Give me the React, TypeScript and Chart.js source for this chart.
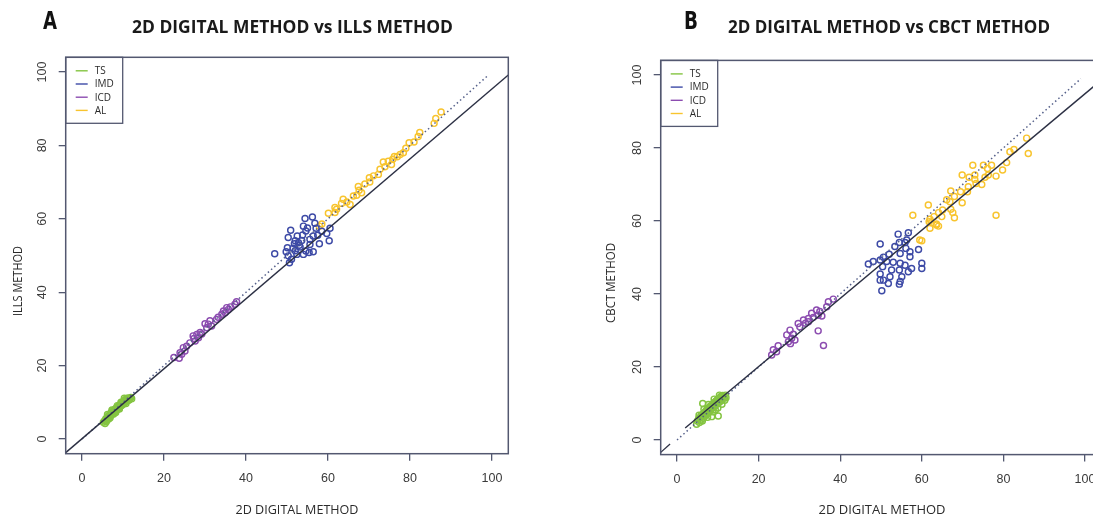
import React, { useEffect, useRef } from "react";
import { Chart, registerables } from "chart.js";

Chart.register(...registerables);

type Pt = [number, number];

const tickValues = [0, 20, 40, 60, 80, 100];
const groupLabels = ["TS", "IMD", "ICD", "AL"];
const groupColors = ["#84c441", "#3d4aa6", "#8c4cb0", "#f8c42e"];

// ---------- Panel A : 2D digital vs ILLS ----------
const tsA: Pt[] = [
  [5.2, 4.6], [5.5, 5.0], [5.6, 4.2], [5.8, 5.5], [6.0, 5.1], [6.1, 5.8], [6.3, 6.2], [6.4, 5.4], [6.6, 6.0], [6.7, 6.6],
  [6.9, 6.3], [7.0, 7.0], [7.1, 6.5], [7.2, 7.4], [7.4, 6.9], [7.5, 7.6], [7.6, 7.1], [7.8, 7.8], [7.9, 7.3], [8.0, 8.1],
  [8.1, 7.6], [8.3, 8.3], [8.4, 7.9], [8.5, 8.6], [8.7, 8.2], [8.8, 8.8], [8.9, 8.4], [9.0, 9.1], [9.2, 8.7], [9.3, 9.4],
  [9.4, 9.0], [9.6, 9.6], [9.7, 9.2], [9.8, 9.9], [10.0, 9.5], [10.1, 10.2], [10.2, 9.8], [10.4, 10.5], [10.5, 10.0], [10.6, 10.8],
  [10.8, 10.3], [10.9, 11.0], [11.0, 10.6], [11.2, 11.2], [11.3, 10.5], [11.5, 11.0], [11.6, 10.8], [6.2, 6.7], [7.3, 7.9], [8.6, 9.1],
  [9.5, 10.0], [10.3, 11.1], [5.9, 4.7], [6.8, 5.7], [7.7, 6.8], [8.2, 7.2], [9.1, 8.2], [10.7, 9.7], [11.9, 11.3], [12.1, 11.0],
];
const imdA: Pt[] = [
  [47.0, 50.5], [54.4, 60.1], [56.2, 60.5], [54.0, 58.0], [56.8, 58.8], [50.9, 56.9], [54.6, 56.7], [57.1, 57.4], [60.5, 57.4], [59.7, 56.0],
  [60.3, 54.0], [50.3, 54.9], [52.0, 54.0], [52.8, 53.5], [53.6, 54.1], [55.6, 54.4], [56.4, 55.3], [57.9, 53.2], [55.6, 53.0], [50.1, 52.1],
  [51.5, 52.0], [53.2, 52.3], [54.6, 51.2], [56.4, 51.0], [50.3, 49.9], [51.1, 49.0], [52.4, 50.3], [54.0, 50.3], [55.4, 50.8], [50.6, 48.0],
  [55.0, 57.5], [52.5, 55.3], [53.0, 52.8], [51.8, 53.2], [57.5, 55.5], [58.5, 56.6], [53.8, 55.6], [49.8, 51.0], [52.0, 51.3],
];
const icdA: Pt[] = [
  [37.7, 37.4], [37.3, 36.7], [35.3, 35.8], [34.9, 34.4], [34.1, 34.0], [33.2, 33.2], [32.8, 32.6], [31.2, 32.2], [30.8, 31.3], [31.6, 30.8],
  [30.4, 30.3], [28.8, 29.0], [28.0, 28.5], [27.1, 28.1], [28.4, 27.6], [27.6, 26.7], [26.3, 26.2], [25.5, 25.3], [24.7, 24.9], [23.9, 23.5],
  [23.7, 22.0], [25.1, 24.0], [30.0, 31.4], [34.5, 34.9], [35.7, 35.3], [27.3, 27.4], [29.2, 28.6], [36.2, 36.0], [24.3, 23.1], [22.4, 22.2],
];
const alA: Pt[] = [
  [87.6, 89.1], [86.3, 87.3], [85.9, 86.0], [82.4, 83.5], [82.0, 82.4], [81.0, 80.9], [79.8, 80.7], [78.4, 78.0], [77.6, 77.5], [76.9, 76.9],
  [75.8, 76.2], [74.7, 75.7], [73.5, 75.5], [75.5, 74.8], [73.9, 74.2], [72.7, 73.5], [72.3, 72.1], [71.1, 71.7], [70.1, 71.2], [70.2, 70.0],
  [67.4, 68.8], [67.6, 67.8], [68.2, 67.1], [67.0, 66.4], [66.2, 66.2], [63.7, 65.3], [64.6, 64.6], [63.3, 64.2], [65.4, 63.9], [62.1, 62.6],
  [61.7, 61.7], [60.1, 61.5], [61.7, 63.1], [57.9, 58.0], [58.5, 58.6], [69.0, 69.5], [76.2, 77.0], [79.0, 79.2],
];
const fitA: Pt[] = [[-4, -3.7], [104, 99.2]];

// ---------- Panel B : 2D digital vs CBCT ----------
const tsB: Pt[] = [
  [4.8, 4.3], [5.0, 5.2], [5.3, 5.8], [5.5, 4.8], [5.7, 6.3], [5.9, 5.5], [6.0, 6.8], [6.2, 5.2], [6.3, 10.0], [6.4, 7.1],
  [6.5, 6.0], [6.7, 7.5], [6.8, 6.5], [7.0, 7.9], [7.1, 6.9], [7.3, 8.3], [7.4, 7.2], [7.5, 6.2], [7.6, 8.6], [7.8, 7.6],
  [7.9, 9.0], [8.0, 8.0], [8.2, 9.3], [8.3, 8.4], [8.5, 6.4], [8.6, 9.6], [8.7, 8.7], [8.9, 10.0], [9.0, 9.0], [9.2, 10.3],
  [9.3, 9.3], [9.4, 8.2], [9.5, 10.6], [9.6, 9.7], [9.8, 11.0], [9.9, 10.0], [10.0, 8.8], [10.1, 6.6], [10.2, 11.3], [10.3, 10.3],
  [10.5, 11.6], [10.6, 10.6], [10.8, 12.0], [10.9, 11.0], [11.0, 9.8], [11.2, 12.2], [11.3, 11.3], [11.5, 11.8], [11.7, 10.9], [11.9, 12.3],
  [12.0, 11.6], [6.6, 8.4], [7.7, 9.7], [9.1, 11.2], [10.4, 12.3], [5.4, 6.8], [8.8, 7.7],
];
const imdB: Pt[] = [
  [49.8, 53.7], [54.2, 56.4], [56.7, 56.8], [54.5, 54.1], [55.9, 54.1], [53.4, 53.0], [56.1, 52.5], [59.2, 52.2], [57.1, 51.6], [54.7, 51.1],
  [52.0, 50.9], [57.1, 50.2], [50.6, 50.1], [46.9, 48.2], [49.8, 49.3], [51.4, 48.9], [53.0, 48.7], [54.7, 48.4], [55.9, 47.9], [60.0, 48.4],
  [60.0, 47.0], [57.5, 47.0], [50.4, 47.5], [52.6, 46.6], [54.5, 46.6], [56.7, 46.1], [49.8, 45.5], [52.2, 44.7], [55.1, 44.7], [49.8, 43.8],
  [50.6, 43.8], [54.7, 43.4], [51.8, 42.9], [54.5, 42.7], [50.2, 40.9], [48.1, 48.9], [56.3, 54.8],
];
const icdB: Pt[] = [
  [37.1, 37.9], [36.7, 36.5], [35.0, 35.2], [34.2, 35.6], [34.6, 34.2], [33.4, 33.6], [32.2, 33.3], [31.0, 32.9], [32.2, 32.4], [30.1, 31.0],
  [27.7, 30.1], [28.5, 29.0], [26.9, 28.8], [28.1, 27.9], [27.3, 26.9], [28.9, 27.4], [24.8, 25.8], [23.6, 24.7], [24.4, 24.2], [23.2, 23.3],
  [34.6, 29.9], [35.9, 25.9], [33.0, 34.7], [38.3, 38.6], [29.7, 31.9], [27.8, 26.4], [31.5, 32.0], [35.5, 34.0],
];
const alB: Pt[] = [
  [85.7, 82.7], [86.1, 78.5], [82.6, 79.6], [81.6, 79.0], [80.8, 76.0], [79.8, 74.0], [78.2, 72.3], [77.1, 75.3], [75.1, 75.3], [76.1, 74.4],
  [72.5, 75.3], [76.3, 72.6], [75.5, 72.0], [73.0, 72.6], [71.6, 72.0], [69.9, 72.6], [73.0, 71.4], [73.3, 70.3], [74.7, 70.0], [71.4, 69.4],
  [71.2, 68.0], [69.5, 68.0], [67.1, 68.2], [68.0, 66.7], [66.9, 65.3], [69.9, 65.0], [61.6, 64.4], [65.1, 63.0], [64.1, 62.3], [67.1, 63.2],
  [67.6, 62.3], [63.0, 61.2], [62.0, 60.5], [68.0, 60.9], [64.9, 61.2], [57.8, 61.6], [78.2, 61.6], [63.6, 59.2], [64.1, 58.6], [62.3, 59.5],
  [66.1, 65.8], [61.8, 59.8], [63.6, 58.9], [60.0, 54.6], [62.0, 58.0], [59.5, 54.8],
];
const fitB: Pt[] = [[2, 3.3], [104, 98.6]];
const cornerB: Pt[] = [[-4.2, -3.6], [-1.7, -1.1]];

const identityLine: Pt[] = [[0, 0], [99, 99]];

// ---------- styling ----------
const BOX_COLOR = "#535870";
const TEXT_COLOR = "#2b2b2b";
const TICK_TEXT = "#3a3a3a";

type PanelCfg = {
  groups: Pt[][];
  fit: Pt[];
  extra?: Pt[];
  width: number;
  height: number;
  yAxisW: number;
  xAxisH: number;
  top: number;
  padRight: number;
  letter: string;
  letterPos: [number, number];
  title: string;
  titlePos: [number, number];
  titleW: number;
  xTitle: string;
  xTitlePos: [number, number];
  xTitleW: number;
  yTitle: string;
  yTitlePos: [number, number];
  yTitleW: number;
};

function toXY(a: Pt[]) {
  return a.map(([x, y]) => ({ x, y }));
}

function drawText(
  ctx: CanvasRenderingContext2D,
  text: string,
  x: number,
  y: number,
  font: string,
  color: string,
  targetW?: number,
  rotate?: boolean
) {
  ctx.save();
  ctx.font = font;
  ctx.fillStyle = color;
  ctx.textAlign = "center";
  ctx.textBaseline = "middle";
  ctx.translate(x, y);
  if (rotate) ctx.rotate(-Math.PI / 2);
  if (targetW) {
    const w = ctx.measureText(text).width;
    if (w > 0) ctx.scale(targetW / w, 1);
  }
  ctx.fillText(text, 0, 0);
  ctx.restore();
}

function makeOverlay(cfg: PanelCfg) {
  return {
    id: "overlay",
    afterDraw(chart: any) {
      const ctx: CanvasRenderingContext2D = chart.ctx;
      const ca = chart.chartArea;
      // box
      ctx.save();
      ctx.strokeStyle = BOX_COLOR;
      ctx.lineWidth = 1.5;
      ctx.strokeRect(ca.left, ca.top, ca.right - ca.left, ca.bottom - ca.top);
      ctx.restore();

      // rotated y tick labels
      const ys = chart.scales.y;
      ys.ticks.forEach((t: any) => {
        const py = ys.getPixelForValue(t.value);
        drawText(ctx, String(t.value), ca.left - 23, py, "12.5px 'Liberation Sans', Arial, sans-serif", TICK_TEXT, undefined, true);
      });

      // legend
      const lx = ca.left;
      const ly = ca.top;
      ctx.save();
      ctx.strokeStyle = BOX_COLOR;
      ctx.lineWidth = 1.3;
      ctx.strokeRect(lx, ly, 57, 66);
      const groupSets = chart.data.datasets.filter((d: any) => d.isGroup);
      groupSets.forEach((d: any, i: number) => {
        const ry = ly + 13.5 + i * 13.2;
        ctx.strokeStyle = d.borderColor;
        ctx.lineWidth = 1.4;
        ctx.beginPath();
        ctx.moveTo(lx + 10, ry);
        ctx.lineTo(lx + 22, ry);
        ctx.stroke();
        ctx.fillStyle = "#2a2a2a";
        ctx.font = "10px 'Open Sans', sans-serif";
        ctx.textAlign = "left";
        ctx.textBaseline = "middle";
        ctx.fillText(d.label, lx + 29, ry + 0.5);
      });
      ctx.restore();

      // titles
      drawText(ctx, cfg.letter, cfg.letterPos[0], cfg.letterPos[1], "bold 24px 'DejaVu Sans Condensed', 'Liberation Sans Narrow', sans-serif", "#111", 14);
      drawText(ctx, cfg.title, cfg.titlePos[0], cfg.titlePos[1], "bold 17px 'Open Sans', sans-serif", "#1a1a1a", cfg.titleW);
      drawText(ctx, cfg.xTitle, cfg.xTitlePos[0], cfg.xTitlePos[1], "13px 'Open Sans', sans-serif", TEXT_COLOR, cfg.xTitleW);
      drawText(ctx, cfg.yTitle, cfg.yTitlePos[0], cfg.yTitlePos[1], "13px 'Open Sans', sans-serif", TEXT_COLOR, cfg.yTitleW, true);
    },
  };
}

function axisCommon(isX: boolean, cfg: PanelCfg) {
  return {
    type: "linear" as const,
    min: -4,
    max: 104,
    afterBuildTicks: (s: any) => {
      s.ticks = tickValues.map((v) => ({ value: v }));
    },
    afterFit: (s: any) => {
      if (isX) s.height = cfg.xAxisH;
      else s.width = cfg.yAxisW;
    },
    border: { display: false },
    grid: {
      drawOnChartArea: false,
      drawTicks: true,
      tickLength: 7,
      color: BOX_COLOR,
      lineWidth: 1.3,
    },
    ticks: isX
      ? {
          display: true,
          autoSkip: false,
          maxRotation: 0,
          minRotation: 0,
          padding: 10,
          color: TICK_TEXT,
          font: { family: "'Liberation Sans', Arial, sans-serif", size: 12.5 },
          callback: (v: any) => String(v),
        }
      : { display: false },
  };
}

function buildChart(canvas: HTMLCanvasElement, cfg: PanelCfg) {
  const lineSets: any[] = [
    {
      label: "fit",
      data: toXY(cfg.fit),
      showLine: true,
      borderColor: "#2c3044",
      borderWidth: 1.4,
      pointRadius: 0,
      order: 0,
    },
    {
      label: "identity",
      data: toXY(identityLine),
      showLine: true,
      borderColor: "#55608a",
      borderDash: [1.5, 2.8],
      borderWidth: 1.5,
      pointRadius: 0,
      order: 0,
    },
  ];
  if (cfg.extra) {
    lineSets.push({
      label: "extra",
      data: toXY(cfg.extra),
      showLine: true,
      borderColor: "#2c3044",
      borderWidth: 1.3,
      pointRadius: 0,
      order: 0,
    });
  }
  const groupSets = cfg.groups.map((g, i) => ({
    label: groupLabels[i],
    isGroup: true,
    data: toXY(g),
    showLine: false,
    borderColor: groupColors[i],
    backgroundColor: "rgba(0,0,0,0)",
    pointBorderColor: groupColors[i],
    pointBackgroundColor: "rgba(0,0,0,0)",
    pointRadius: 3.0,
    pointBorderWidth: 1.45,
    pointHoverRadius: 3.0,
    order: 1,
  }));

  return new Chart(canvas, {
    type: "scatter",
    data: { datasets: [...lineSets, ...groupSets] as any },
    options: {
      responsive: false,
      maintainAspectRatio: false,
      animation: false,
      events: [],
      layout: { padding: { left: 0, top: cfg.top, right: cfg.padRight, bottom: 0 } },
      plugins: {
        legend: { display: false },
        tooltip: { enabled: false },
        title: { display: false },
      },
      scales: {
        x: axisCommon(true, cfg) as any,
        y: axisCommon(false, cfg) as any,
      },
    },
    plugins: [makeOverlay(cfg)],
  });
}

const panelA: PanelCfg = {
  groups: [tsA, imdA, icdA, alA],
  fit: fitA,
  width: 546,
  height: 517,
  yAxisW: 65.7,
  xAxisH: 63.3,
  top: 57.3,
  padRight: 37.7,
  letter: "A",
  letterPos: [50, 22.5],
  title: "2D DIGITAL METHOD vs ILLS METHOD",
  titlePos: [292.5, 28],
  titleW: 321,
  xTitle: "2D DIGITAL METHOD",
  xTitlePos: [297, 510],
  xTitleW: 123,
  yTitle: "ILLS METHOD",
  yTitlePos: [18, 281],
  yTitleW: 70,
};

const panelB: PanelCfg = {
  groups: [tsB, imdB, icdB, alB],
  fit: fitB,
  extra: cornerB,
  width: 570,
  height: 517,
  yAxisW: 114.7,
  xAxisH: 62.4,
  top: 60.4,
  padRight: 14.7,
  letter: "B",
  letterPos: [145, 22.5],
  title: "2D DIGITAL METHOD vs CBCT METHOD",
  titlePos: [343, 28],
  titleW: 322,
  xTitle: "2D DIGITAL METHOD",
  xTitlePos: [336, 510],
  xTitleW: 127,
  yTitle: "CBCT METHOD",
  yTitlePos: [65, 283],
  yTitleW: 80,
};

function Panel({ cfg, left }: { cfg: PanelCfg; left: number }) {
  const ref = useRef<HTMLCanvasElement | null>(null);
  useEffect(() => {
    if (!ref.current) return;
    const chart = buildChart(ref.current, cfg);
    return () => chart.destroy();
  }, [cfg]);
  return (
    <canvas
      ref={ref}
      width={cfg.width}
      height={cfg.height}
      style={{ position: "absolute", left, top: 0, width: cfg.width, height: cfg.height }}
    />
  );
}

export default function App() {
  return (
    <div
      style={{
        position: "fixed",
        left: 0,
        top: 0,
        width: 1093,
        height: 517,
        overflow: "hidden",
        background: "#ffffff",
      }}
    >
      <Panel cfg={panelA} left={0} />
      <Panel cfg={panelB} left={546} />
    </div>
  );
}
